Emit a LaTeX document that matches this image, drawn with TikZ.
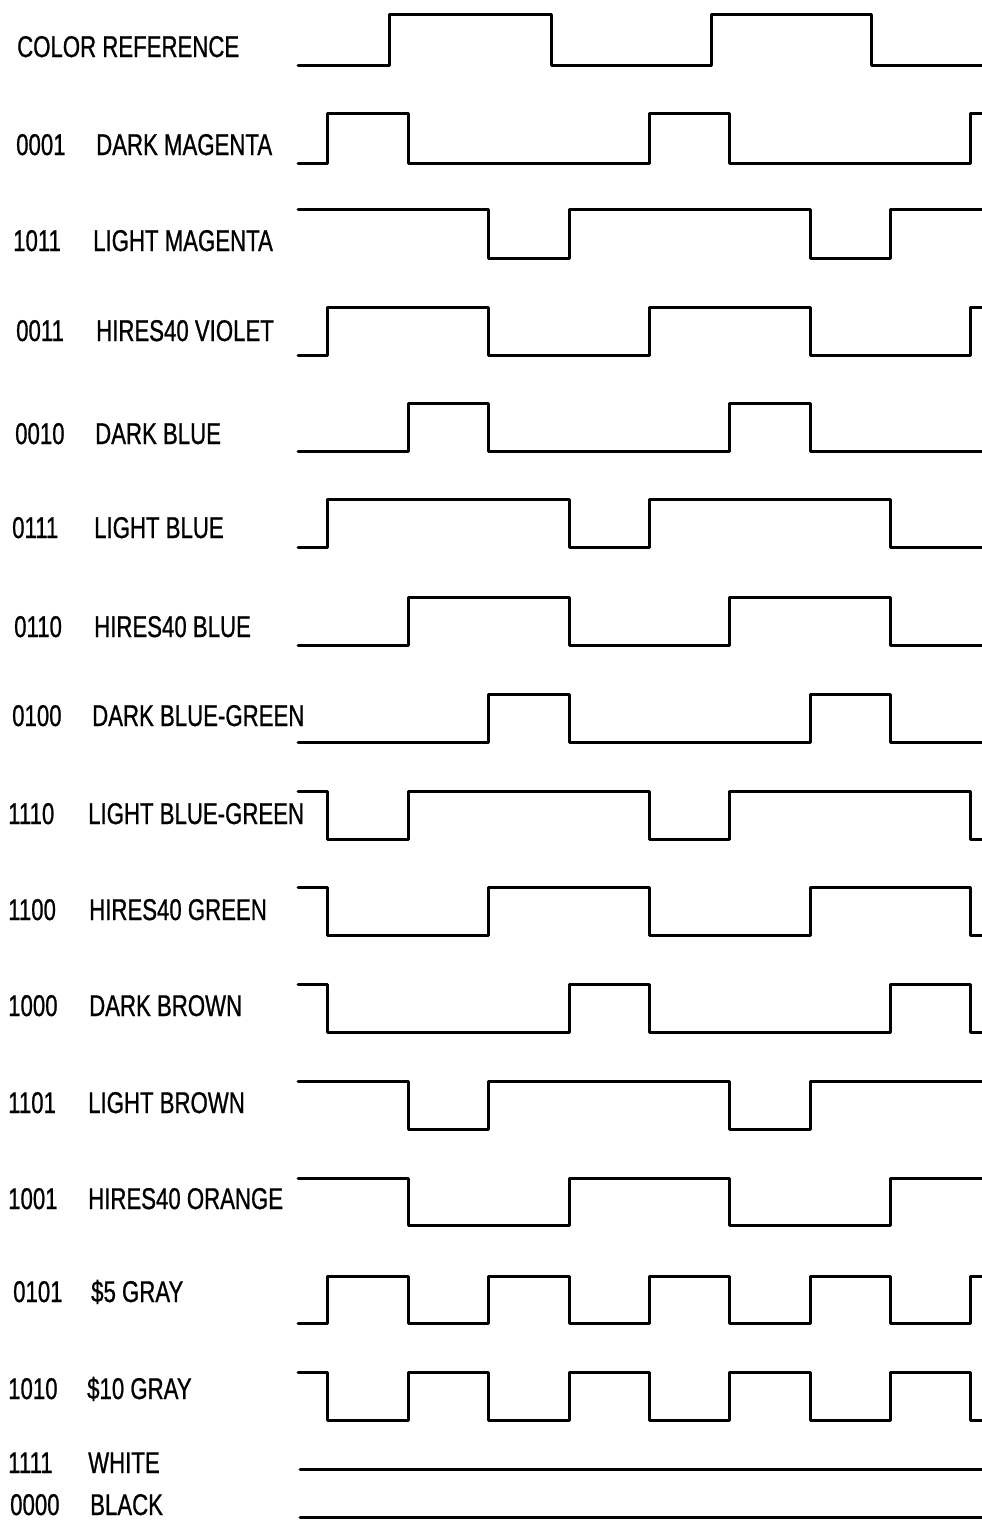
\documentclass[tikz,border=0pt]{standalone}
\usepackage{fontspec}
\setmainfont[FakeStretch=0.74,FakeBold=0.8]{Liberation Sans}
\begin{document}
\begin{tikzpicture}[x=1pt,y=-1pt,
  wave/.style={line width=3pt,line join=round,line cap=round},
  lbl/.style={anchor=base west,inner sep=0pt,font=\fontsize{30}{36}\selectfont}]
\useasboundingbox (0,0) rectangle (982,1520);
\def\ta{327.5}\def\tb{408}\def\tc{488}\def\td{569}\def\te{649}
\def\tf{729.5}\def\tg{810}\def\th{890}\def\ti{970.5}
\def\xs{298}\def\xe{982}
% labels
\node[lbl] (cref) at (17,57) {COLOR REFERENCE};
\node[lbl] (c2) at (16,155) {0001}; \node[lbl] (n2) at (96,155) {DARK MAGENTA};
\node[lbl] (c3) at (13,251) {1011}; \node[lbl] (n3) at (93,251) {LIGHT MAGENTA};
\node[lbl] (c4) at (16,341) {0011}; \node[lbl] (n4) at (96,341) {HIRES40 VIOLET};
\node[lbl] (c5) at (15,444) {0010}; \node[lbl] (n5) at (95,444) {DARK BLUE};
\node[lbl] (c6) at (12,538) {0111}; \node[lbl] (n6) at (94,538) {LIGHT BLUE};
\node[lbl] (c7) at (14,637) {0110}; \node[lbl] (n7) at (94,637) {HIRES40 BLUE};
\node[lbl] (c8) at (12,726) {0100}; \node[lbl] (n8) at (92,726) {DARK BLUE-GREEN};
\node[lbl] (c9) at (8,824) {1110}; \node[lbl] (n9) at (88,824) {LIGHT BLUE-GREEN};
\node[lbl] (c10) at (8,920) {1100}; \node[lbl] (n10) at (89,920) {HIRES40 GREEN};
\node[lbl] (c11) at (8,1016) {1000}; \node[lbl] (n11) at (89,1016) {DARK BROWN};
\node[lbl] (c12) at (8,1113) {1101}; \node[lbl] (n12) at (88,1113) {LIGHT BROWN};
\node[lbl] (c13) at (8,1209) {1001}; \node[lbl] (n13) at (88,1209) {HIRES40 ORANGE};
\node[lbl] (c14) at (13,1302) {0101}; \node[lbl] (n14) at (91,1302) {\$5 GRAY};
\node[lbl] (c15) at (8,1399) {1010}; \node[lbl] (n15) at (87,1399) {\$10 GRAY};
\node[lbl] (c16) at (8,1473) {1111}; \node[lbl] (n16) at (88,1473) {WHITE};
\node[lbl] (c17) at (10,1515) {0000}; \node[lbl] (n17) at (90,1515) {BLACK};
% waveforms
\draw[wave] (\xs,66) -| (389,15) -| (551,66) -| (711,15) -| (871,66) -- (\xe,66);
\draw[wave] (\xs,163) -| (\ta,113) -| (\tb,163) -| (\te,113) -| (\tf,163) -| (\ti,113) -- (\xe,113);
\draw[wave] (\xs,209) -| (\tc,258) -| (\td,209) -| (\tg,258) -| (\th,209) -- (\xe,209);
\draw[wave] (\xs,355) -| (\ta,307) -| (\tc,355) -| (\te,307) -| (\tg,355) -| (\ti,307) -- (\xe,307);
\draw[wave] (\xs,451) -| (\tb,403) -| (\tc,451) -| (\tf,403) -| (\tg,451) -- (\xe,451);
\draw[wave] (\xs,547) -| (\ta,499) -| (\td,547) -| (\te,499) -| (\th,547) -- (\xe,547);
\draw[wave] (\xs,645) -| (\tb,597) -| (\td,645) -| (\tf,597) -| (\th,645) -- (\xe,645);
\draw[wave] (\xs,742) -| (\tc,694) -| (\td,742) -| (\tg,694) -| (\th,742) -- (\xe,742);
\draw[wave] (\xs,791) -| (\ta,839) -| (\tb,791) -| (\te,839) -| (\tf,791) -| (\ti,839) -- (\xe,839);
\draw[wave] (\xs,887) -| (\ta,935) -| (\tc,887) -| (\te,935) -| (\tg,887) -| (\ti,935) -- (\xe,935);
\draw[wave] (\xs,984) -| (\ta,1032) -| (\td,984) -| (\te,1032) -| (\th,984) -| (\ti,1032) -- (\xe,1032);
\draw[wave] (\xs,1081) -| (\tb,1129) -| (\tc,1081) -| (\tf,1129) -| (\tg,1081) -- (\xe,1081);
\draw[wave] (\xs,1178) -| (\tb,1225) -| (\td,1178) -| (\tf,1225) -| (\th,1178) -- (\xe,1178);
\draw[wave] (\xs,1323) -| (\ta,1276) -| (\tb,1323) -| (\tc,1276) -| (\td,1323) -| (\te,1276) -| (\tf,1323) -| (\tg,1276) -| (\th,1323) -| (\ti,1276) -- (\xe,1276);
\draw[wave] (\xs,1372) -| (\ta,1420) -| (\tb,1372) -| (\tc,1420) -| (\td,1372) -| (\te,1420) -| (\tf,1372) -| (\tg,1420) -| (\th,1372) -| (\ti,1420) -- (\xe,1420);
\draw[wave] (300,1469) -- (\xe,1469);
\draw[wave] (300,1517) -- (\xe,1517);
\end{tikzpicture}
\end{document}
